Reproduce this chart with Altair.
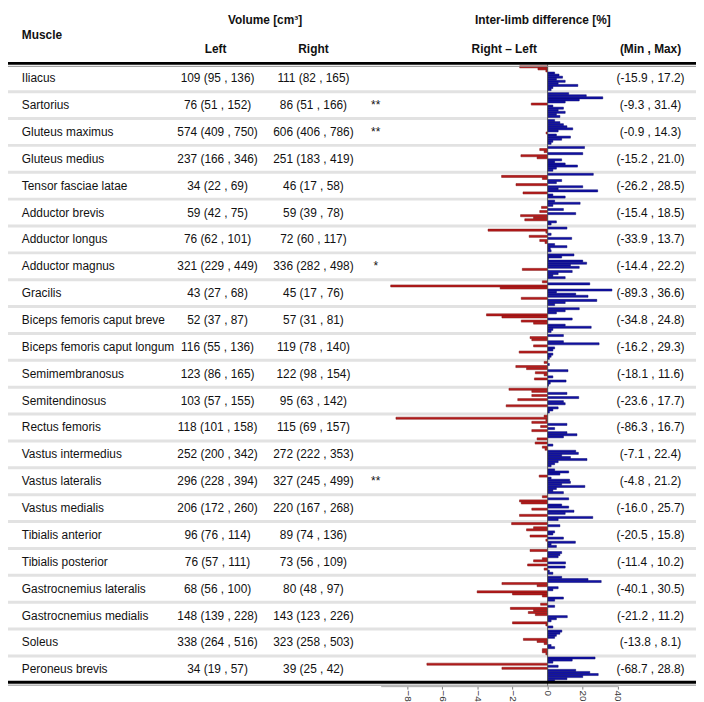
import altair as alt
import pandas as pd

muscles = [
    "Iliacus", "Sartorius", "Gluteus maximus", "Gluteus medius", "Tensor fasciae latae",
    "Adductor brevis", "Adductor longus", "Adductor magnus", "Gracilis",
    "Biceps femoris caput breve", "Biceps femoris caput longum", "Semimembranosus",
    "Semitendinosus", "Rectus femoris", "Vastus intermedius", "Vastus lateralis",
    "Vastus medialis", "Tibialis anterior", "Tibialis posterior",
    "Gastrocnemius lateralis", "Gastrocnemius medialis", "Soleus", "Peroneus brevis",
]
left_vol = [
    "109 (95 , 136)", "76 (51 , 152)", "574 (409 , 750)", "237 (166 , 346)", "34 (22 , 69)",
    "59 (42 , 75)", "76 (62 , 101)", "321 (229 , 449)", "43 (27 , 68)", "52 (37 , 87)",
    "116 (55 , 136)", "123 (86 , 165)", "103 (57 , 155)", "118 (101 , 158)", "252 (200 , 342)",
    "296 (228 , 394)", "206 (172 , 260)", "96 (76 , 114)", "76 (57 , 111)", "68 (56 , 100)",
    "148 (139 , 228)", "338 (264 , 516)", "34 (19 , 57)",
]
right_vol = [
    "111 (82 , 165)", "86 (51 , 166)", "606 (406 , 786)", "251 (183 , 419)", "46 (17 , 58)",
    "59 (39 , 78)", "72 (60 , 117)", "336 (282 , 498)", "45 (17 , 76)", "57 (31 , 81)",
    "119 (78 , 140)", "122 (98 , 154)", "95 (63 , 142)", "115 (69 , 157)", "272 (222 , 353)",
    "327 (245 , 499)", "220 (167 , 268)", "89 (74 , 136)", "73 (56 , 109)", "80 (48 , 97)",
    "143 (123 , 226)", "323 (258 , 503)", "39 (25 , 42)",
]
signif = ["", "**", "**", "", "", "", "", "*", "", "", "", "", "", "", "", "**",
          "", "", "", "", "", "", ""]
min_max = [
    "(-15.9 , 17.2)", "(-9.3 , 31.4)", "(-0.9 , 14.3)", "(-15.2 , 21.0)", "(-26.2 , 28.5)",
    "(-15.4 , 18.5)", "(-33.9 , 13.7)", "(-14.4 , 22.2)", "(-89.3 , 36.6)", "(-34.8 , 24.8)",
    "(-16.2 , 29.3)", "(-18.1 , 11.6)", "(-23.6 , 17.7)", "(-86.3 , 16.7)", "(-7.1 , 22.4)",
    "(-4.8 , 21.2)", "(-16.0 , 25.7)", "(-20.5 , 15.8)", "(-11.4 , 10.2)", "(-40.1 , 30.5)",
    "(-21.2 , 11.2)", "(-13.8 , 8.1)", "(-68.7 , 28.8)",
]
diffs = [
    [-15.9, -5.5, -1.0, 4.0, 6.5, 8.5, 5.0, 10.0, 6.0, 17.2, 3.0, 2.0],
    [12.0, 22.0, 31.4, 18.0, 10.0, -9.3, 3.0, 9.0, 6.0, 10.0, 5.0, 7.0],
    [4.0, 7.0, 9.0, 11.0, 14.3, 6.0, -0.9, 5.0, 13.0, 8.0, 3.0, 2.0],
    [21.0, -4.5, -2.0, 20.0, -15.2, -6.0, 8.0, 4.0, 10.0, 17.0, 5.0, 3.0],
    [26.0, -26.2, -3.0, 8.0, 5.0, -18.0, 20.0, 6.0, 28.5, -14.0, 3.0, 10.0],
    [4.0, 18.5, 3.0, -3.5, 9.0, -4.5, 16.0, -15.4, -8.0, -13.0, 5.0, 2.0],
    [11.0, -33.9, -1.0, 2.0, -10.5, 13.7, -4.5, -1.5, 4.0, 11.0, 1.5, 2.0],
    [15.0, 8.0, 0.5, 20.0, 22.2, 13.0, 18.0, -14.4, 14.0, 6.0, 3.0, 10.0],
    [-3.0, 24.0, -89.3, -27.0, 36.6, 5.0, 16.0, 23.0, -15.0, 28.0, 10.0, 4.0],
    [18.0, 10.0, 5.0, -34.8, -26.0, 14.0, -15.0, -8.0, 10.0, 24.8, 3.0, 2.0],
    [9.0, -10.0, -9.0, 9.0, 29.3, -8.0, 4.0, 3.0, -16.2, 3.0, 2.0, 1.0],
    [-2.0, 1.0, -18.1, -12.0, 11.6, -7.0, -2.0, 3.0, -7.5, 10.5, 1.5, 0.5],
    [-22.0, -9.0, 11.0, -9.0, 17.7, -17.0, 9.0, 10.0, -23.6, 6.0, 3.0, 1.0],
    [-2.0, -86.3, -1.0, -9.0, 11.0, -4.0, 4.0, -9.0, 11.0, 16.7, 9.0, -6.0],
    [-7.1, 3.0, -3.0, -1.5, 16.0, 17.5, 8.0, 13.0, 22.4, 6.0, 4.0, 2.0],
    [4.0, 12.0, 7.0, -4.8, 2.0, 12.5, 13.0, 8.0, 21.2, 5.0, 3.0, 9.0],
    [-3.0, 12.0, -16.0, -15.0, 8.0, 12.0, -9.0, 15.0, 10.0, -16.0, 25.7, 6.0],
    [-20.5, 7.0, -8.0, -12.0, 4.0, 3.0, -10.0, 9.0, -1.0, 15.8, 2.0, 5.0],
    [-10.0, 8.0, 7.0, 6.0, -3.0, -8.0, 10.2, -11.4, 10.0, -2.0, 1.0, 3.0],
    [8.0, 23.0, 30.5, -26.0, -6.0, 6.0, 3.0, -40.1, -20.0, -3.0, 9.0, 4.0],
    [-4.0, 4.0, -21.2, -8.0, -11.0, -7.0, 11.2, 5.0, 2.0, -20.0, -1.0, 3.0],
    [8.1, 7.0, 5.0, 4.0, -13.8, -6.0, -2.0, 2.0, 4.0, -3.0, -3.0, -1.0],
    [27.0, 14.0, 3.0, -68.7, 6.0, -26.0, 16.0, 24.0, 28.8, 20.0, 11.0, 4.0],
]
axis_ticks = [-80, -60, -40, -20, 0, 20, 40]
headers = ["Muscle", "Volume [cm³]", "Left", "Right",
           "Inter-limb difference [%]", "Right – Left", "(Min , Max)"]

rows = pd.DataFrame({"muscle": muscles, "left": left_vol, "right": right_vol,
                     "sig": signif, "mm": min_max})
bar_df = pd.DataFrame([
    {"muscle": m, "subj": j, "diff": v, "side": "neg" if v < 0 else "pos"}
    for m, vals in zip(muscles, diffs) for j, v in enumerate(vals)
])
sep_df = rows.iloc[:-1]
one = pd.DataFrame({"k": [0]})

W, H = 696, 694
FONT = "Liberation Sans, Arial"
FS = 12

yscale = alt.Scale(type="band", domain=muscles, range=[53.4, 678.6],
                   paddingInner=0, paddingOuter=0)
xscale = alt.Scale(domain=[-95, 40], range=[377, 617], nice=False, zero=False)

seps = alt.Chart(sep_df).mark_rule(color="#e2e2e2", strokeWidth=3).encode(
    y=alt.Y("muscle:N", scale=yscale, axis=None, bandPosition=1),
    x=alt.value(0), x2=alt.value(W),
)

bars = alt.Chart(bar_df).mark_bar(strokeWidth=0.5).encode(
    y=alt.Y("muscle:N", scale=yscale, axis=None),
    yOffset=alt.YOffset("subj:N", scale=alt.Scale(paddingInner=0, paddingOuter=0.5)),
    x=alt.X("diff:Q", scale=xscale,
            axis=alt.Axis(values=axis_ticks, labelAngle=90, offset=-12, title=None,
                          grid=False, domainColor="#a8a8a8", tickColor="#808080",
                          tickSize=3, labelFont=FONT, labelFontSize=10,
                          labelColor="#333333", labelPadding=1, orient="bottom")),
    x2=alt.datum(0),
    color=alt.Color("side:N", scale=alt.Scale(domain=["neg", "pos"],
                                               range=["#b81c1c", "#1212a6"]), legend=None),
    stroke=alt.Stroke("side:N", scale=alt.Scale(domain=["neg", "pos"],
                                                 range=["#7a1010", "#08086a"]), legend=None),
)

zero = alt.Chart(one).mark_rule(color="#555555", strokeWidth=1).encode(
    x=alt.datum(0, scale=xscale), y=alt.value(53), y2=alt.value(682),
)

def col_text(field, xpos, align):
    return alt.Chart(rows).mark_text(font=FONT, fontSize=FS, align=align,
                                     baseline="middle", color="#111111").encode(
        y=alt.Y("muscle:N", scale=yscale, axis=None),
        x=alt.value(xpos), text=f"{field}:N",
    )

t_muscle = col_text("muscle", 14, "left")
t_left = col_text("left", 212, "center")
t_right = col_text("right", 309, "center")
t_sig = col_text("sig", 372, "center")
t_mm = col_text("mm", 650, "center")

head_pos = [(14, 23, "left"), (260, 8, "center"), (210, 37, "center"), (309, 37, "center"),
            (541, 8, "center"), (502, 37, "center"), (650, 37, "center")]
head_layers = []
for lab, (hx, hy, al) in zip(headers, head_pos):
    head_layers.append(
        alt.Chart(one).mark_text(text=lab, font=FONT, fontSize=FS, fontWeight="bold",
                                 align=al, baseline="middle", color="#111111").encode(
            x=alt.value(hx), y=alt.value(hy))
    )

top_line = alt.Chart(one).mark_rule(color="black", strokeWidth=3).encode(
    x=alt.value(0), x2=alt.value(W), y=alt.value(52))
top_line2 = alt.Chart(one).mark_rule(color="#909090", strokeWidth=1).encode(
    x=alt.value(0), x2=alt.value(W), y=alt.value(55))
bot_line = alt.Chart(one).mark_rule(color="black", strokeWidth=3).encode(
    x=alt.value(0), x2=alt.value(W), y=alt.value(678))
bot_line2 = alt.Chart(one).mark_rule(color="#909090", strokeWidth=1).encode(
    x=alt.value(0), x2=alt.value(W), y=alt.value(681))

chart = alt.layer(
    seps, bars, zero, t_muscle, t_left, t_right, t_sig, t_mm,
    *head_layers, top_line, top_line2, bot_line, bot_line2
).properties(
    width=W, height=H, padding=0,
    autosize=alt.AutoSizeParams(type="none"),
).configure_view(stroke=None)

chart.save("out.html", embed_options={"renderer": "svg", "actions": False})
